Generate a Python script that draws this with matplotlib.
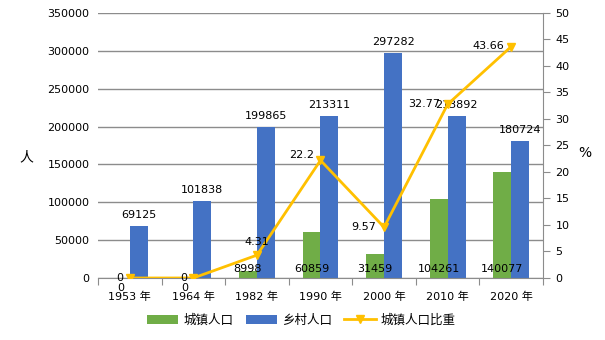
import matplotlib.pyplot as plt
import numpy as np

plt.rcParams['font.family'] = ['DejaVu Sans', 'Noto Sans CJK SC']
plt.rcParams['font.size'] = 8

years = ['1953 年', '1964 年', '1982 年', '1990 年', '2000 年', '2010 年', '2020 年']
urban = [0, 0, 8998, 60859, 31459, 104261, 140077]
rural = [69125, 101838, 199865, 213311, 297282, 213892, 180724]
urban_pct = [0, 0, 4.31, 22.2, 9.57, 32.77, 43.66]

green = '#70AD47'
blue = '#4472C4'
gold = '#FFC000'
grid = '#8C8C8C'

x = np.arange(len(years))
w = 0.283

fig = plt.figure(figsize=(6.05, 3.4), dpi=100)
ax = fig.add_axes([0.162, 0.1824, 0.7355, 0.7794])
ax.set_xlim(-0.5, len(years) - 0.5)
ax.set_ylim(0, 350000)
ax.set_yticks(np.arange(0, 350001, 50000))
ax.yaxis.grid(True, color=grid, lw=1)
ax.set_axisbelow(True)

b1 = ax.bar(x - w / 2, urban, w, color=green, label='城镇人口', zorder=2)
b2 = ax.bar(x + w / 2, rural, w, color=blue, label='乡村人口', zorder=2)

# value labels, offsets in pixels
for xi, v in zip(x, urban):
    ax.annotate(str(v), (xi - w / 2, 0), xytext=(0, -10 if v == 0 else 9),
                textcoords='offset pixels', ha='center', va='center', fontsize=8)
for xi, v in zip(x, rural):
    ax.annotate(str(v), (xi + w / 2, v), xytext=(0, 11),
                textcoords='offset pixels', ha='center', va='center', fontsize=8)

for s in ['top', 'right', 'left']:
    ax.spines[s].set_visible(False)
ax.spines['bottom'].set_color(grid)
ax.set_xticks(np.arange(-0.5, len(years), 1))
ax.set_xticklabels([])
ax.set_xticks(x, minor=True)
ax.set_xticklabels(years, minor=True)
ax.tick_params(axis='x', which='major', length=5, color=grid, direction='out')
ax.tick_params(axis='x', which='minor', length=0, pad=9.5)
ax.tick_params(axis='y', length=0, pad=6)
ax.set_ylabel('人', rotation=0, fontsize=10, va='center', ha='center')
ax.yaxis.set_label_coords(-0.16, 0.457)

ax2 = ax.twinx()
ax2.set_ylim(0, 50)
ax2.set_yticks(np.arange(0, 51, 5))
for s in ['top', 'left', 'bottom']:
    ax2.spines[s].set_visible(False)
ax2.spines['right'].set_color(grid)
ax2.tick_params(axis='y', length=5, color=grid, pad=4)
ax2.set_ylabel('%', rotation=0, fontsize=10, va='center', ha='center')
ax2.yaxis.set_label_coords(1.094, 0.472)

ln, = ax2.plot(x, urban_pct, color=gold, lw=2, marker='v', markersize=6,
               label='城镇人口比重', zorder=3)
pct_offsets = [(-10, 0), (-10, 0), (0, 13), (-19, 5), (-20, 0), (-23, 0), (-23, 1)]
for xi, v, off in zip(x, urban_pct, pct_offsets):
    ax2.annotate(f'{v:g}', (xi, v), xytext=off, textcoords='offset pixels',
                 ha='center', va='center', fontsize=8)

fig.legend(handles=[b1, b2, ln], loc='center', bbox_to_anchor=(0.498, 0.058),
           ncol=3, frameon=False, fontsize=9, handlelength=2.5,
           columnspacing=1.0, handletextpad=0.4)

fig.savefig('out.png', dpi=100)
